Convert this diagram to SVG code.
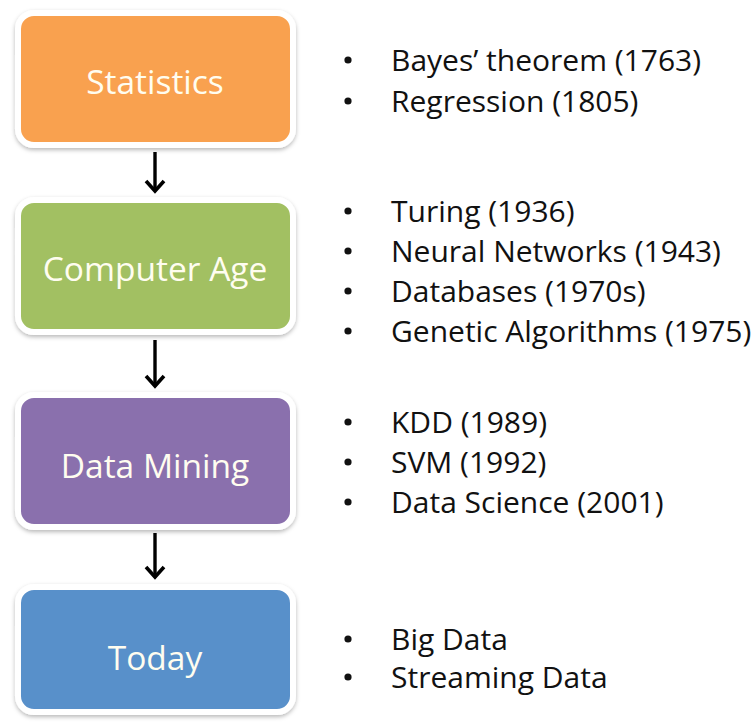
<svg xmlns="http://www.w3.org/2000/svg" width="755" height="727" viewBox="0 0 755 727">
  <defs>
    <filter id="soft" x="-10%" y="-10%" width="120%" height="125%">
      <feDropShadow dx="0" dy="2" stdDeviation="2" flood-color="#000" flood-opacity="0.28"/>
    </filter>
    <marker id="arr" markerUnits="userSpaceOnUse" markerWidth="26" markerHeight="26" viewBox="-13 -13 26 26" refX="0" refY="0" orient="auto" overflow="visible">
      <path d="M-10,-9 L0,0 L-10,9" fill="none" stroke="#000" stroke-width="3.6" stroke-linejoin="miter"/>
    </marker>
  </defs>
  <style>
    .box { stroke: #ffffff; stroke-width: 6; filter: url(#soft); }
    .label { font-family: "Open Sans", "Noto Sans", "DejaVu Sans", sans-serif; font-size: 33.5px; fill: #fffdf0; text-anchor: middle; }
    .item { font-family: "Open Sans", "Noto Sans", "DejaVu Sans", sans-serif; font-size: 30px; fill: #111111; }
    .dot { fill: #111111; }
    .link { stroke: #000; stroke-width: 3.4; fill: none; marker-end: url(#arr); }
  </style>
  <rect width="755" height="727" fill="#ffffff"/>

  <!-- connectors -->
  <g id="connectors">
    <line class="link" x1="155" y1="152" x2="155" y2="191"/>
    <line class="link" x1="155" y1="340" x2="155" y2="386"/>
    <line class="link" x1="155" y1="533" x2="155" y2="577"/>
  </g>

  <!-- stage nodes -->
  <g id="statistics">
    <rect class="box" x="18" y="13" width="275" height="132" rx="16" fill="#f9a14f"/>
    <text class="label" x="155" y="94">Statistics</text>
  </g>
  <g id="computer-age">
    <rect class="box" x="18" y="200" width="275" height="132" rx="16" fill="#a2c062"/>
    <text class="label" x="155" y="281">Computer Age</text>
  </g>
  <g id="data-mining">
    <rect class="box" x="18" y="395" width="275" height="132" rx="16" fill="#8a70ad"/>
    <text class="label" x="155" y="478">Data Mining</text>
  </g>
  <g id="today">
    <rect class="box" x="18" y="587" width="275" height="125" rx="16" fill="#5990ca"/>
    <text class="label" x="155" y="670">Today</text>
  </g>

  <!-- milestone lists -->
  <g id="statistics-items">
    <circle class="dot" cx="348" cy="60" r="3.6"/>
    <text class="item" x="391" y="71">Bayes’ theorem (1763)</text>
    <circle class="dot" cx="348" cy="101" r="3.6"/>
    <text class="item" x="391" y="112">Regression (1805)</text>
  </g>
  <g id="computer-age-items">
    <circle class="dot" cx="348" cy="211" r="3.6"/>
    <text class="item" x="391" y="222">Turing (1936)</text>
    <circle class="dot" cx="348" cy="251" r="3.6"/>
    <text class="item" x="391" y="262">Neural Networks (1943)</text>
    <circle class="dot" cx="348" cy="291" r="3.6"/>
    <text class="item" x="391" y="302">Databases (1970s)</text>
    <circle class="dot" cx="348" cy="331" r="3.6"/>
    <text class="item" x="391" y="342">Genetic Algorithms (1975)</text>
  </g>
  <g id="data-mining-items">
    <circle class="dot" cx="348" cy="422" r="3.6"/>
    <text class="item" x="391" y="433">KDD (1989)</text>
    <circle class="dot" cx="348" cy="462" r="3.6"/>
    <text class="item" x="391" y="473">SVM (1992)</text>
    <circle class="dot" cx="348" cy="502" r="3.6"/>
    <text class="item" x="391" y="513">Data Science (2001)</text>
  </g>
  <g id="today-items">
    <circle class="dot" cx="348" cy="639" r="3.6"/>
    <text class="item" x="391" y="650">Big Data</text>
    <circle class="dot" cx="348" cy="677" r="3.6"/>
    <text class="item" x="391" y="688">Streaming Data</text>
  </g>
</svg>
